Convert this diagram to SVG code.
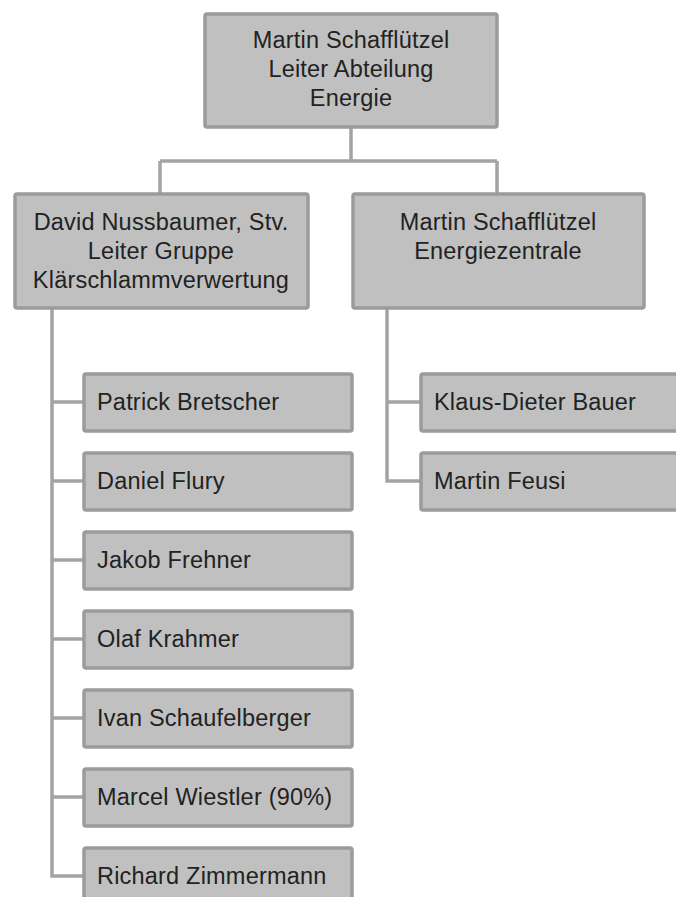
<svg xmlns="http://www.w3.org/2000/svg" width="676" height="897" viewBox="0 0 676 897">
<style>
.box{fill:#c0c0c0;stroke:#9b9b9b;stroke-width:3.5}
.t{font-family:"Liberation Sans",Arial,sans-serif;font-size:23.5px;letter-spacing:0.2px;fill:#222}
.c{text-anchor:middle}
.ln{fill:none;stroke:#a3a3a3;stroke-width:3.5}
</style>
<rect width="676" height="897" fill="#fff"/>
<g id="connectors">
<path class="ln" d="M351 127V161M160 161H497M160 161V193M497 161V193"/>
<path class="ln" d="M52 308V876H83M52 402H83M52 481H83M52 560H83M52 639H83M52 718H83M52 797H83"/>
<path class="ln" d="M387 309V481H420M387 402H420"/>
</g>
<g id="n-top">
<rect class="box" x="205" y="14" width="292" height="113" rx="2"/>
<text class="t c" x="351" y="47.5">Martin Schafflützel</text>
<text class="t c" x="351" y="77">Leiter Abteilung</text>
<text class="t c" x="351" y="106">Energie</text>
</g>
<g id="n-david">
<rect class="box" x="15" y="194" width="293" height="114" rx="2"/>
<text class="t c" x="161" y="229.5">David Nussbaumer, Stv.</text>
<text class="t c" x="161" y="258.5">Leiter Gruppe</text>
<text class="t c" x="161" y="287.5">Klärschlammverwertung</text>
</g>
<g id="n-energiezentrale">
<rect class="box" x="353" y="194" width="291" height="114" rx="2"/>
<text class="t c" x="498" y="229.5">Martin Schafflützel</text>
<text class="t c" x="498" y="258.5">Energiezentrale</text>
</g>
<g id="n-patrick"><rect class="box" x="84" y="374" width="268" height="57" rx="2"/><text class="t" x="97" y="410">Patrick Bretscher</text></g>
<g id="n-daniel"><rect class="box" x="84" y="453" width="268" height="57" rx="2"/><text class="t" x="97" y="489">Daniel Flury</text></g>
<g id="n-jakob"><rect class="box" x="84" y="532" width="268" height="57" rx="2"/><text class="t" x="97" y="568">Jakob Frehner</text></g>
<g id="n-olaf"><rect class="box" x="84" y="611" width="268" height="57" rx="2"/><text class="t" x="97" y="647">Olaf Krahmer</text></g>
<g id="n-ivan"><rect class="box" x="84" y="690" width="268" height="57" rx="2"/><text class="t" x="97" y="726">Ivan Schaufelberger</text></g>
<g id="n-marcel"><rect class="box" x="84" y="769" width="268" height="57" rx="2"/><text class="t" x="97" y="805">Marcel Wiestler (90%)</text></g>
<g id="n-richard"><rect class="box" x="84" y="848" width="268" height="57" rx="2"/><text class="t" x="97" y="884">Richard Zimmermann</text></g>
<g id="n-klaus"><rect class="box" x="421" y="374" width="268" height="57" rx="2"/><text class="t" x="434" y="410">Klaus-Dieter Bauer</text></g>
<g id="n-feusi"><rect class="box" x="421" y="453" width="268" height="57" rx="2"/><text class="t" x="434" y="489">Martin Feusi</text></g>
</svg>
